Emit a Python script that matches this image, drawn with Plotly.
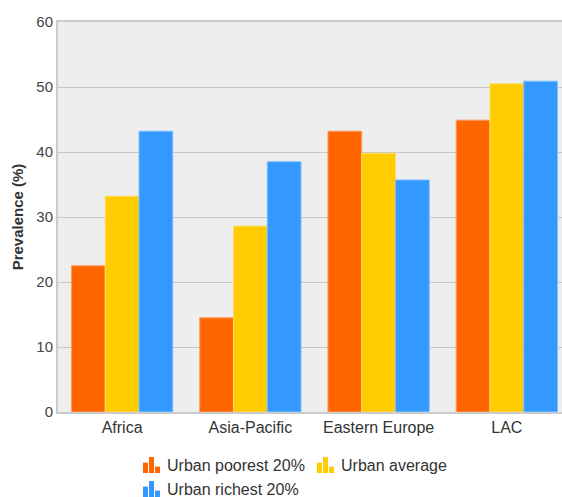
import plotly.graph_objects as go

# Prevalence (%) by region and urban wealth group
regions = ["Africa", "Asia-Pacific", "Eastern Europe", "LAC"]
urban_poorest = [22.5, 14.5, 43.2, 44.9]
urban_average = [33.2, 28.6, 39.8, 50.5]
urban_richest = [43.2, 38.5, 35.7, 50.9]

series_names = ["Urban poorest 20%", "Urban average", "Urban richest 20%"]
series_values = [urban_poorest, urban_average, urban_richest]
colors = ["#ff6600", "#ffcc00", "#3399ff"]
edge_colors = ["#ff9a66", "#ffdd66", "#80bfff"]

W, H = 562, 497
M_L, M_R, M_T, M_B = 58, 0, 22, 85
PW, PH = W - M_L - M_R, H - M_T - M_B

fig = go.Figure()
for name, vals, c, ec in zip(series_names, series_values, colors, edge_colors):
    fig.add_trace(go.Bar(
        x=regions, y=vals, name=name,
        marker=dict(color=c, line=dict(color=ec, width=1)),
        showlegend=False,
    ))

FONT = "Liberation Sans, Arial, sans-serif"


def px_to_paper(px, py):
    return (px - M_L) / PW, (H - M_B - py) / PH


# legend built from small bar-chart icons and text labels
legend_items = [(143, 465), (317, 465), (143, 489)]
icon_bars = [(0, 5, 0.65), (6, 11, 1.0), (12, 17, 0.4)]
shapes = []
annotations = []
for (lx, ly), name, c in zip(legend_items, series_names, colors):
    base = ly + 8
    for x0, x1, frac in icon_bars:
        px0, py0 = px_to_paper(lx + x0, base)
        px1, py1 = px_to_paper(lx + x1, base - 16 * frac)
        shapes.append(dict(type="rect", xref="paper", yref="paper",
                           x0=px0, x1=px1, y0=py0, y1=py1,
                           fillcolor=c, line=dict(width=0), layer="above"))
    tx, ty = px_to_paper(lx + 22, ly)
    annotations.append(dict(text=name, xref="paper", yref="paper", x=tx, y=ty,
                            xanchor="left", yanchor="middle", showarrow=False,
                            font=dict(family=FONT, size=16, color="#333333")))

fig.update_layout(
    width=W, height=H,
    margin=dict(l=M_L, r=M_R, t=M_T, b=M_B),
    paper_bgcolor="white",
    plot_bgcolor="#eeeeee",
    barmode="group",
    bargap=0.21,
    bargroupgap=0,
    font=dict(family=FONT, size=15, color="#444444"),
    shapes=shapes,
    annotations=annotations,
    xaxis=dict(
        range=[-0.5, 3.43],
        showline=True, linecolor="#cccccc", linewidth=2, mirror=True,
        showgrid=False, ticks="",
        tickfont=dict(family=FONT, size=16, color="#333333"),
    ),
    yaxis=dict(
        range=[0, 60], dtick=10,
        showline=True, linecolor="#cccccc", linewidth=2, mirror=False,
        showgrid=True, gridcolor="#c8c8c8", gridwidth=1,
        zeroline=False, ticks="",
        tickfont=dict(family=FONT, size=15, color="#444444"),
        title=dict(text="<b>Prevalence (%)</b>", standoff=9,
                   font=dict(family=FONT, size=15, color="#333333")),
    ),
)

fig.write_html("out.html")
